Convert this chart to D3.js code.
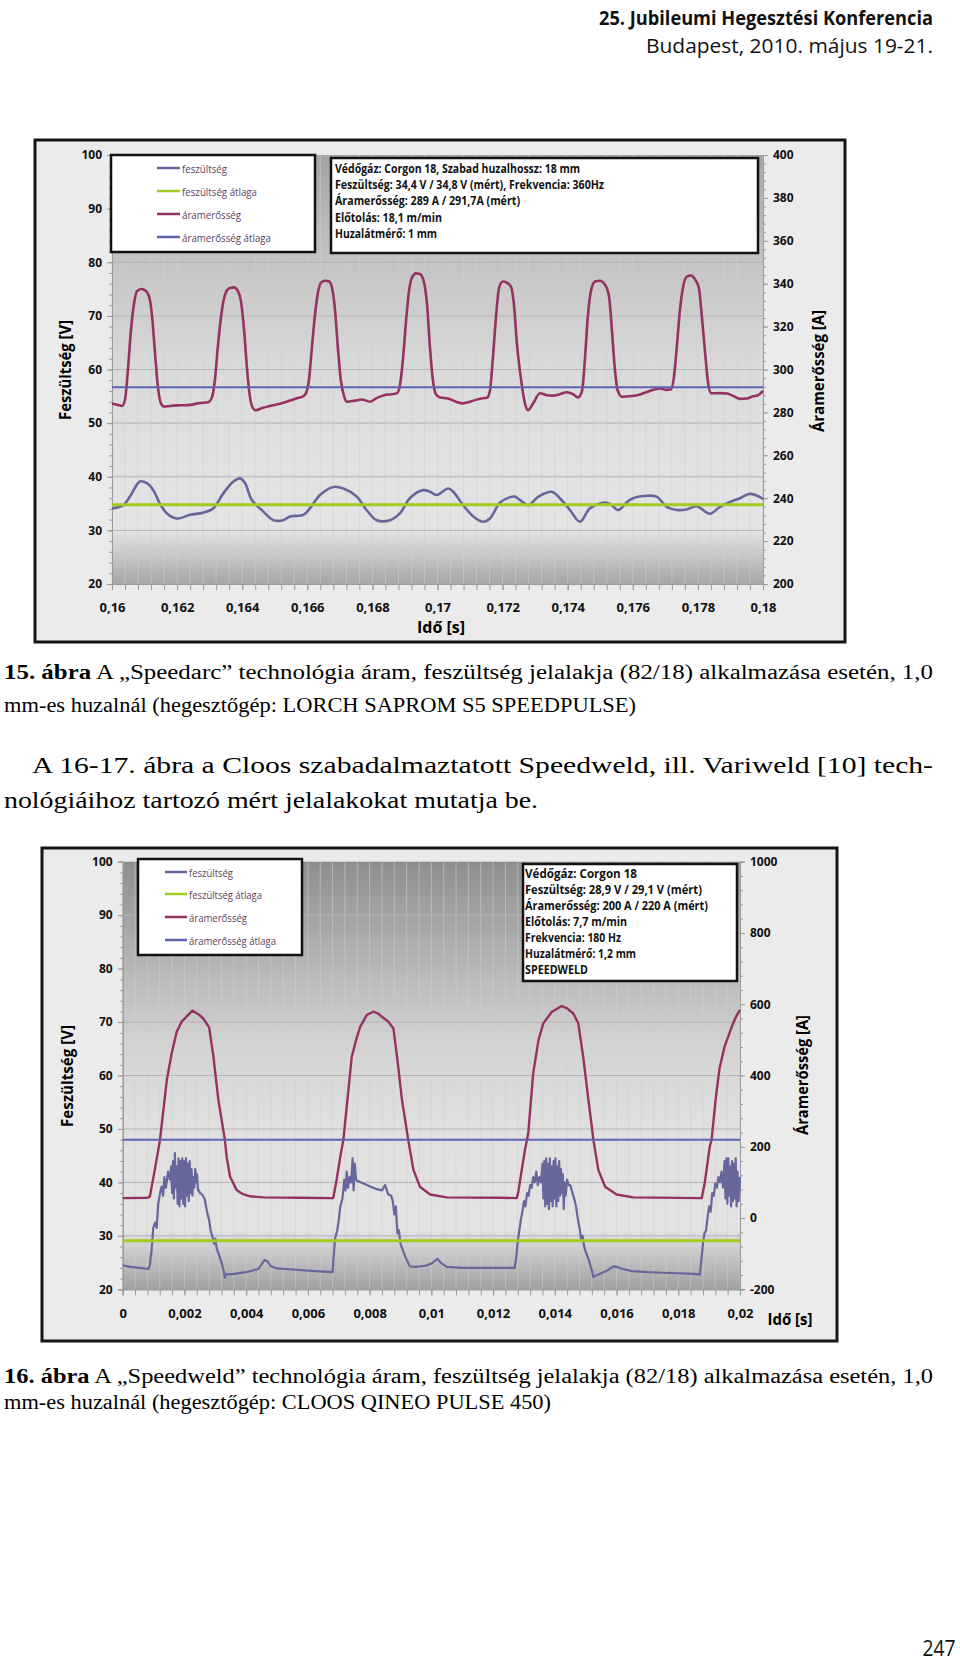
<!DOCTYPE html>
<html><head><meta charset="utf-8">
<script src="https://cdn.jsdelivr.net/npm/d3@7"></script>
<style>body{margin:0;background:#fff} svg{display:block}</style>
</head><body>
<svg id="page" width="960" height="1661"></svg>
<script>
// ---------------- DATA ----------------
const legendLabels = ["feszültség", "feszültség átlaga", "áramerősség", "áramerősség átlaga"];

// Figure 15 (Speedarc)
const c1Info = [
  "Védőgáz: Corgon 18, Szabad huzalhossz: 18 mm",
  "Feszültség: 34,4 V / 34,8 V (mért), Frekvencia: 360Hz",
  "Áramerősség: 289 A / 291,7A (mért)",
  "Előtolás: 18,1 m/min",
  "Huzalátmérő: 1 mm"
];
const c1XTicks = [0.16, 0.162, 0.164, 0.166, 0.168, 0.17, 0.172, 0.174, 0.176, 0.178, 0.18];
const c1YLeftTicks = [20, 30, 40, 50, 60, 70, 80, 90, 100];
const c1YRightTicks = [200, 220, 240, 260, 280, 300, 320, 340, 360, 380, 400];
const c1VoltageAvg = 34.8;
const c1CurrentAvg = 291.7;
const c1Current = [
[0.16000,284.2],[0.16018,283.5],[0.16031,283.0],[0.16040,286],[0.16049,300],[0.16058,318],[0.16068,331],[0.16077,336.5],[0.16089,337.5],[0.16101,337],[0.16114,334],[0.16123,325],[0.16132,308],[0.16141,292],[0.16151,284],[0.16160,282.7],[0.16178,283],[0.16209,283.3],[0.16240,283.5],[0.16270,284.4],[0.16295,284.7],
[0.16307,287],[0.16316,295],[0.16326,312],[0.16338,328],[0.16350,336],[0.16362,338],[0.16375,338.3],[0.16387,336.5],[0.16396,332],[0.16406,318],[0.16415,300],[0.16424,287],[0.16433,282],[0.16442,281],[0.16461,282],[0.16485,283],[0.16516,284],[0.16547,285.5],[0.16568,286.6],[0.16587,287.5],
[0.16596,289],[0.16605,295],[0.16614,310],[0.16624,326],[0.16633,336],[0.16642,340.5],[0.16654,341.4],[0.16667,341],[0.16676,338],[0.16685,328],[0.16694,310],[0.16703,295],[0.16713,287.5],[0.16722,285],[0.16746,285.5],[0.16768,286],[0.16793,285],[0.16814,286.8],[0.16836,288],[0.16860,288.5],[0.16876,289],
[0.16885,293],[0.16894,305],[0.16903,322],[0.16912,336],[0.16922,343],[0.16934,344.8],[0.16946,344.5],[0.16958,341],[0.16968,330],[0.16977,310],[0.16986,295],[0.16995,288.5],[0.17008,287],[0.17032,286.5],[0.17057,285],[0.17078,284.2],[0.17100,285],[0.17131,286.4],[0.17152,286.8],
[0.17161,290],[0.17170,305],[0.17180,325],[0.17189,338],[0.17201,341],[0.17213,340.5],[0.17226,338.5],[0.17235,330],[0.17244,312],[0.17257,295],[0.17269,284],[0.17278,281],[0.17293,284],[0.17315,288.9],[0.17336,288],[0.17355,287.8],[0.17376,288.5],[0.17398,289.4],[0.17416,288.5],[0.17432,287],
[0.17444,290],[0.17453,305],[0.17462,325],[0.17472,337],[0.17484,341],[0.17499,341.4],[0.17515,339.5],[0.17527,334],[0.17536,318],[0.17545,300],[0.17554,290],[0.17567,287.3],[0.17591,287.5],[0.17613,288],[0.17634,289],[0.17653,290],[0.17668,290.8],[0.17683,291.2],[0.17702,290.5],[0.17717,290.7],
[0.17726,296],[0.17736,312],[0.17745,328],[0.17754,338],[0.17766,343.3],[0.17779,343.8],[0.17791,342],[0.17803,338],[0.17812,325],[0.17822,308],[0.17831,294],[0.17840,289],[0.17849,288.9],[0.17868,289],[0.17889,288.8],[0.17911,287.5],[0.17929,286.3],[0.17951,286.5],[0.17969,287.5],[0.17985,288],[0.18000,290]
];
const c1Voltage = [
[0.16000,34.1],[0.16035,34.7],[0.16055,36.3],[0.16086,39.1],[0.16107,38.8],[0.16127,37.5],[0.16147,35],[0.16168,33.2],[0.16199,32.2],[0.16240,32.9],[0.16280,33.3],[0.16311,34.1],[0.16342,36.9],[0.16373,39.1],[0.16393,39.7],[0.16409,38.8],[0.16429,35.7],[0.16465,33.5],[0.16496,31.9],[0.16526,31.9],[0.16547,32.6],[0.16588,32.9],
[0.16608,34.1],[0.16639,36.6],[0.16680,38.1],[0.16711,37.8],[0.16752,36.3],[0.16782,33.8],[0.16813,31.9],[0.16854,31.9],[0.16885,33.2],[0.16915,36],[0.16956,37.5],[0.16977,37.2],[0.16997,36.6],[0.17033,37.8],[0.17048,37.2],[0.17079,34.7],[0.17110,32.6],[0.17141,31.6],[0.17161,32.2],
[0.17192,35.2],[0.17223,36.2],[0.17238,36.3],[0.17253,35.7],[0.17279,34.7],[0.17310,36.3],[0.17351,37.2],[0.17376,36],[0.17407,33.8],[0.17438,31.6],[0.17468,34.1],[0.17515,35.2],[0.17535,34.7],[0.17555,33.8],[0.17591,35.7],[0.17632,36.4],[0.17673,36.3],[0.17704,34.4],[0.17735,33.8],[0.17765,33.9],
[0.17796,34.5],[0.17837,33.1],[0.17868,34.4],[0.17899,35.3],[0.17929,36],[0.17960,36.8],[0.17996,36],[0.18000,35.8]
];

// Figure 16 (Speedweld)
const c2Info = [
  "Védőgáz: Corgon 18",
  "Feszültség: 28,9 V  /  29,1 V (mért)",
  "Áramerősség: 200 A  /  220 A (mért)",
  "Előtolás: 7,7 m/min",
  "Frekvencia: 180 Hz",
  "Huzalátmérő: 1,2 mm",
  "SPEEDWELD"
];
const c2XTicks = [0, 0.002, 0.004, 0.006, 0.008, 0.01, 0.012, 0.014, 0.016, 0.018, 0.02];
const c2YLeftTicks = [20, 30, 40, 50, 60, 70, 80, 90, 100];
const c2YRightTicks = [-200, 0, 200, 400, 600, 800, 1000];
const c2VoltageAvg = 29.1;
const c2CurrentAvg = 220;
const c2Current = [
[0,56],[0.0008,57],[0.00088,60],[0.00105,140],[0.00121,220],[0.00143,388],[0.00159,463],[0.00175,523],[0.00191,551],[0.00207,565],[0.00226,582],[0.00245,572],[0.00261,560],[0.0028,535],[0.00294,453],[0.0031,331],[0.00331,220],[0.00337,170],[0.00348,116],[0.00369,79],[0.0039,67],[0.00412,61],[0.00456,58],[0.00574,57],[0.00682,56],
[0.00693,107],[0.00704,167],[0.00715,220],[0.00728,331],[0.00742,452],[0.00756,499],[0.00769,536],[0.00791,570],[0.00812,579],[0.00827,574],[0.00844,562],[0.00861,551],[0.00877,532],[0.00889,452],[0.00905,331],[0.00925,220],[0.00942,135],[0.00963,88],[0.00996,66],[0.0105,58],[0.01222,57],[0.01277,56],
[0.01282,75],[0.01293,135],[0.01303,190],[0.01314,238],[0.0133,406],[0.01347,499],[0.01363,547],[0.0139,578],[0.01422,595],[0.01439,589],[0.0146,574],[0.01476,547],[0.01492,452],[0.01509,331],[0.01525,220],[0.01541,135],[0.01563,88],[0.016,66],[0.01654,58],[0.01876,56],
[0.01886,100],[0.01902,200],[0.01908,220],[0.01922,340],[0.01934,422],[0.0195,481],[0.01973,536],[0.01987,565],[0.02,584]
];
const c2Voltage = [
[0,24.5],[0.00024,24.2],[0.00056,24.0],[0.00083,23.8],[0.00088,24.5],[0.00094,27.5],[0.00099,31.5],[0.00105,32.5],[0.0011,31.5],[0.00115,36],[0.00121,38],[0.00126,39.2],[0.00131,37.5],[0.00135,41],[0.0014,39],[0.00147,42],[0.00153,40.5],
[0.00157,43],[0.0016,38],[0.00163,44],[0.00166,37],[0.00169,45.5],[0.00172,39],[0.00175,43],[0.00178,36],[0.00181,44.5],[0.00184,35.5],[0.00187,44],[0.0019,37],[0.00193,44.5],[0.00196,36],[0.00199,44],[0.00202,35.5],[0.00205,44.5],[0.00208,37.5],[0.00211,43.5],[0.00214,36.5],[0.00217,44],[0.0022,38],[0.00223,42.5],[0.00226,37.5],[0.00229,41],[0.00232,39],[0.00235,42.5],[0.00238,40],[0.00241,41.5],[0.00244,38.5],
[0.00247,38.5],[0.0025,38],[0.00256,37.8],[0.0026,37.5],[0.00266,36.8],[0.0027,35.5],[0.00275,34],[0.0028,33],[0.00285,31],[0.0029,30],[0.00296,28.5],[0.003,29.5],[0.00305,27.5],[0.00312,26.5],[0.0032,25],[0.00327,23.5],[0.00331,22.2],[0.00335,22.8],[0.0036,22.9],[0.004,23.2],[0.0044,23.8],[0.0046,25.5],[0.0047,25.2],[0.0048,24.3],[0.005,23.9],[0.0055,23.7],[0.006,23.5],[0.0065,23.3],[0.0068,23.2],
[0.00682,25],[0.00688,29.5],[0.00695,31],[0.007,33],[0.00705,35.5],[0.00712,37],[0.00718,40.5],[0.00722,38.5],[0.00726,42],[0.0073,39],[0.00735,41],[0.0074,40],[0.00745,44.5],[0.00748,38.5],[0.00752,43.5],[0.00756,40.5],[0.0076,40.3],[0.0078,39.8],[0.008,39.3],[0.0082,38.8],[0.0084,38.5],[0.0085,39.5],[0.0086,37.8],[0.0087,37.5],[0.00875,36.5],[0.0088,34],[0.00885,35.5],[0.0089,30.5],[0.00895,31],[0.009,28.5],[0.0091,27],[0.0092,25.5],[0.0093,24.3],[0.0095,24.2],[0.0098,24.4],[0.01,24.8],[0.0102,25.7],[0.0103,25],[0.0105,24.2],[0.011,24],[0.012,24],[0.0127,24],
[0.01275,26],[0.0128,29],[0.01285,31],[0.0129,33],[0.01295,34.5],[0.013,36.5],[0.01305,35.5],[0.0131,38],[0.01315,37.5],[0.0132,39.5],[0.01325,39],[0.0133,41],[0.01335,40],[0.0134,42],[0.01345,39.5],[0.0135,41],[0.01355,40],[0.0136,43.5],[0.01363,37],[0.01366,44],[0.01369,35.5],[0.01372,44.5],[0.01375,36],[0.01378,43.5],[0.01381,35],[0.01384,44.5],[0.01387,36.5],[0.0139,43],[0.01393,35.5],[0.01396,44],[0.01399,37],[0.01402,44.5],[0.01405,35.5],[0.01408,43],[0.01411,36.5],[0.01414,44],[0.01417,37.5],[0.0142,42.5],[0.01423,38],[0.01426,41.5],[0.01429,35],[0.01432,40],[0.01435,37.5],[0.0144,40.5],[0.01445,39.5],[0.0145,39.5],[0.01455,38.5],[0.0146,37.5],[0.01465,36.5],[0.0147,35],[0.01475,33],[0.0148,31.5],[0.01485,29.5],[0.0149,30],[0.01495,28],[0.015,27],[0.0151,25.5],[0.0152,23.5],[0.01525,22.3],[0.0153,22.5],[0.0155,23],[0.0157,23.5],[0.0159,24.3],[0.016,24.2],[0.0162,23.8],[0.0165,23.4],[0.017,23.2],[0.0175,23.1],[0.018,23],[0.0185,22.9],[0.0187,22.8],
[0.01875,25.5],[0.0188,28.5],[0.01885,30.5],[0.0189,31],[0.01895,33.5],[0.019,35.5],[0.01905,34.5],[0.0191,38],[0.01915,37.5],[0.0192,39.8],[0.01925,39],[0.0193,41],[0.01935,40],[0.0194,42],[0.01945,39],[0.0195,44],[0.01953,37],[0.01956,44.5],[0.01959,36],[0.01962,44.5],[0.01965,37.5],[0.01968,43],[0.01971,35.5],[0.01974,44],[0.01977,36.5],[0.0198,43.5],[0.01983,37],[0.01986,44.5],[0.01989,35.5],[0.01992,42],[0.01995,36.5],[0.02,41]
];

// ---------------- RENDER ----------------
const svg = d3.select("#page");
svg.append("rect").attr("width", 960).attr("height", 1661).attr("fill", "#fff");
const defs = svg.append("defs");
const loc = d3.formatLocale({decimal: ",", thousands: " ", grouping: [3], currency: ["", ""], minus: "-"});
const fmtX = loc.format("~g");
const fmtY = loc.format("d");
const SANS = "'Open Sans','Noto Sans',sans-serif";
const SERIF = "'Times New Roman','Liberation Serif',Tinos,'Nimbus Roman','FreeSerif',serif";

const COL = {volt: "#67679c", voltAvg: "#9fcb22", curr: "#943262", currAvg: "#6163ae"};

function txt(g, x, y, s, o = {}) {
  const t = g.append("text").attr("x", x).attr("y", y).text(s)
    .attr("font-family", o.family || SANS)
    .attr("font-size", o.size || 12)
    .attr("font-weight", o.weight || "normal")
    .attr("fill", o.fill || "#000")
    .attr("dominant-baseline", "central")
    .attr("text-anchor", o.anchor || "start");
  if (o.len) t.attr("textLength", o.len).attr("lengthAdjust", "spacingAndGlyphs");
  if (o.rotate) t.attr("transform", `rotate(-90,${x},${y})`);
  return t;
}

function drawChart(cfg, data) {
  const g = svg.append("g");
  const [fx0, fy0, fx1, fy1] = cfg.frame;
  g.append("rect").attr("x", fx0).attr("y", fy0).attr("width", fx1 - fx0).attr("height", fy1 - fy0)
    .attr("fill", "#ebebeb").attr("stroke", "#151515").attr("stroke-width", 3);

  const x = d3.scaleLinear().domain(data.xDomain).range([cfg.plot[0], cfg.plot[2]]);
  const yL = d3.scaleLinear().domain([20, 100]).range([cfg.plot[3], cfg.plot[1]]);
  const yR = d3.scaleLinear().domain(data.rDomain).range([cfg.plot[3], cfg.plot[1]]);

  const gid = "grad" + cfg.id;
  const lg = defs.append("linearGradient").attr("id", gid).attr("x1", 0).attr("y1", 0).attr("x2", 0).attr("y2", 1);
  cfg.stops.forEach(s => lg.append("stop").attr("offset", s[0]).attr("stop-color", s[1]));
  g.append("rect").attr("x", x.range()[0]).attr("y", yL.range()[1])
    .attr("width", x.range()[1] - x.range()[0]).attr("height", yL.range()[0] - yL.range()[1])
    .attr("fill", `url(#${gid})`);

  const d0 = data.xDomain[0], d1 = data.xDomain[1];
  const nMinor = Math.round((d1 - d0) / 0.0004);
  const minorX = d3.range(nMinor + 1).map(i => d0 + i * 0.0004);
  g.append("g").selectAll("line").data(minorX).join("line")
    .attr("x1", d => x(d)).attr("x2", d => x(d))
    .attr("y1", yL.range()[1]).attr("y2", yL.range()[0])
    .attr("stroke", "#cfcfcf").attr("stroke-opacity", 0.55).attr("stroke-width", 1);
  g.append("g").selectAll("line").data(data.yLeftTicks.slice(1, -1)).join("line")
    .attr("x1", x.range()[0]).attr("x2", x.range()[1])
    .attr("y1", d => yL(d)).attr("y2", d => yL(d))
    .attr("stroke", "#b4b4b4").attr("stroke-width", 1);

  const axisStyle = (sel, size) => {
    sel.selectAll("path, line").attr("stroke", "#9a9a9a");
    sel.selectAll("text").attr("font-family", SANS).attr("font-weight", "bold").attr("font-size", size).attr("fill", "#111");
  };
  const minorY = d3.range(20, 100.01, 2);
  g.append("g").attr("transform", `translate(${x.range()[0]},0)`)
    .call(d3.axisLeft(yL).tickValues(minorY).tickSize(3).tickFormat("")).call(s => axisStyle(s, 12));
  g.append("g").attr("transform", `translate(${x.range()[0]},0)`)
    .call(d3.axisLeft(yL).tickValues(data.yLeftTicks).tickSize(5).tickPadding(5).tickFormat(fmtY))
    .call(s => axisStyle(s, 12));
  const rStep = (data.rDomain[1] - data.rDomain[0]) / cfg.rMinorCount;
  const minorR = d3.range(cfg.rMinorCount + 1).map(i => data.rDomain[0] + i * rStep);
  g.append("g").attr("transform", `translate(${x.range()[1]},0)`)
    .call(d3.axisRight(yR).tickValues(minorR).tickSize(3).tickFormat("")).call(s => axisStyle(s, 12));
  g.append("g").attr("transform", `translate(${x.range()[1]},0)`)
    .call(d3.axisRight(yR).tickValues(data.yRightTicks).tickSize(5).tickPadding(5).tickFormat(fmtY))
    .call(s => axisStyle(s, 12));
  g.append("g").attr("transform", `translate(0,${yL.range()[0]})`)
    .call(d3.axisBottom(x).tickValues(minorX).tickSize(6).tickFormat("")).call(s => axisStyle(s, 13));
  g.append("g").attr("transform", `translate(0,${yL.range()[0]})`)
    .call(d3.axisBottom(x).tickValues(data.xTicks).tickSize(6).tickPadding(cfg.xPad).tickFormat(fmtX))
    .call(s => axisStyle(s, 13));

  const lineV = d3.line().x(d => x(d[0])).y(d => yL(d[1])).curve(cfg.curveV);
  const lineC = d3.line().x(d => x(d[0])).y(d => yR(d[1])).curve(cfg.curveC);
  g.append("path").datum(data.voltage).attr("d", lineV).attr("fill", "none")
    .attr("stroke", COL.volt).attr("stroke-width", cfg.wV).attr("stroke-linejoin", "round");
  g.append("line").attr("x1", x.range()[0]).attr("x2", x.range()[1])
    .attr("y1", yL(data.voltAvg)).attr("y2", yL(data.voltAvg))
    .attr("stroke", COL.voltAvg).attr("stroke-width", 3);
  g.append("path").datum(data.current).attr("d", lineC).attr("fill", "none")
    .attr("stroke", COL.curr).attr("stroke-width", cfg.wC).attr("stroke-linejoin", "round");
  g.append("line").attr("x1", x.range()[0]).attr("x2", x.range()[1])
    .attr("y1", yR(data.currAvg)).attr("y2", yR(data.currAvg))
    .attr("stroke", COL.currAvg).attr("stroke-width", 2);

  const [lx0, ly0, lx1, ly1] = cfg.legend;
  g.append("rect").attr("x", lx0).attr("y", ly0).attr("width", lx1 - lx0).attr("height", ly1 - ly0)
    .attr("fill", "#fff").attr("stroke", "#111").attr("stroke-width", 2.5);
  const legCols = [COL.volt, COL.voltAvg, COL.curr, COL.currAvg];
  legendLabels.forEach((lab, i) => {
    const yy = cfg.legendRows[i];
    g.append("line").attr("x1", cfg.legendLine[0]).attr("x2", cfg.legendLine[1])
      .attr("y1", yy).attr("y2", yy).attr("stroke", legCols[i]).attr("stroke-width", 2.5);
    txt(g, cfg.legendLine[1] + 2, yy, lab, {size: 11.5, fill: "#5a3f5c", len: cfg.legendLens[i]});
  });

  const [ix0, iy0, ix1, iy1] = cfg.info;
  g.append("rect").attr("x", ix0).attr("y", iy0).attr("width", ix1 - ix0).attr("height", iy1 - iy0)
    .attr("fill", "#fff").attr("stroke", "#111").attr("stroke-width", 2.5);
  data.info.forEach((s, i) => {
    txt(g, cfg.infoX, cfg.infoY0 + i * cfg.infoDy, s, {size: 11.5, weight: "bold", fill: "#111", len: cfg.infoLens[i]});
  });

  txt(g, cfg.tL[0], cfg.tL[1], "Feszültség [V]", {size: 16, weight: "bold", anchor: "middle", rotate: true, len: cfg.tL[2]});
  txt(g, cfg.tR[0], cfg.tR[1], "Áramerősség [A]", {size: 16, weight: "bold", anchor: "middle", rotate: true, len: cfg.tR[2]});
  txt(g, cfg.tX[0], cfg.tX[1], cfg.tX[3], {size: 16, weight: "bold", anchor: "middle", len: cfg.tX[2]});
}

// ---- header ----
txt(svg, 933, 17, "25. Jubileumi Hegesztési Konferencia", {size: 19.5, weight: "bold", anchor: "end", len: 334, fill: "#111"});
txt(svg, 933, 45, "Budapest, 2010. május 19-21.", {size: 20, anchor: "end", len: 287, fill: "#111"});

// ---- chart 1 ----
drawChart({
  id: 1, frame: [35, 140, 845, 642], plot: [112, 155, 763, 584],
  stops: [[0, "#a3a3a3"], [0.25, "#c4c4c4"], [0.5, "#dadada"], [0.75, "#e2e2e2"], [0.875, "#e4e4e4"], [1, "#a5a5a5"]],
  rMinorCount: 50, xPad: 13,
  curveV: d3.curveCatmullRom, curveC: d3.curveMonotoneX, wV: 2.6, wC: 2.6,
  legend: [111, 155, 315, 252], legendRows: [168, 191, 214, 237], legendLine: [157, 180], legendLens: [45, 75, 59, 89],
  info: [331, 158, 758, 253], infoX: 335, infoY0: 168, infoDy: 16.4, infoLens: [245, 269, 185, 107, 102],
  tL: [65, 370, 100], tR: [818, 371, 122], tX: [441, 627, 48, "Idő  [s]"]
}, {
  xDomain: [0.16, 0.18], rDomain: [200, 400], xTicks: c1XTicks, yLeftTicks: c1YLeftTicks, yRightTicks: c1YRightTicks,
  voltage: c1Voltage, current: c1Current, voltAvg: c1VoltageAvg, currAvg: c1CurrentAvg, info: c1Info
});

// ---- captions / paragraph ----
const cap1 = svg.append("text").attr("x", 4).attr("y", 672).attr("font-family", SERIF).attr("font-size", 20)
  .attr("dominant-baseline", "central").attr("textLength", 929).attr("lengthAdjust", "spacingAndGlyphs");
cap1.append("tspan").attr("font-weight", "bold").text("15. ábra");
cap1.append("tspan").text(" A „Speedarc” technológia áram, feszültség jelalakja (82/18) alkalmazása esetén, 1,0");
txt(svg, 4, 705, "mm-es huzalnál (hegesztőgép: LORCH SAPROM S5 SPEEDPULSE)", {family: SERIF, size: 20, len: 632});
txt(svg, 32, 765, "A 16-17. ábra a Cloos szabadalmaztatott Speedweld, ill. Variweld [10] tech-", {family: SERIF, size: 24, len: 901});
txt(svg, 4, 800, "nológiáihoz tartozó mért jelalakokat mutatja be.", {family: SERIF, size: 24, len: 534});

// ---- chart 2 ----
drawChart({
  id: 2, frame: [42, 848, 837, 1341], plot: [122.7, 861.7, 740, 1289.3],
  stops: [[0, "#8e8e8e"], [0.2, "#afafaf"], [0.42, "#d2d2d2"], [0.6, "#dfdfdf"], [0.86, "#e3e3e3"], [1, "#a0a0a0"]],
  rMinorCount: 30, xPad: 13,
  curveV: d3.curveLinear, curveC: d3.curveLinear, wV: 2.2, wC: 2.4,
  legend: [138, 859, 302, 955], legendRows: [872, 894, 917, 940], legendLine: [165, 187], legendLens: [44, 73, 58, 87],
  info: [523, 864, 737, 981], infoX: 525, infoY0: 873.5, infoDy: 16, infoLens: [112, 177, 183, 102, 96, 111, 63],
  tL: [67, 1076, 102], tR: [802, 1075, 120], tX: [790, 1319, 45, "Idő [s]"]
}, {
  xDomain: [0, 0.02], rDomain: [-200, 1000], xTicks: c2XTicks, yLeftTicks: c2YLeftTicks, yRightTicks: c2YRightTicks,
  voltage: c2Voltage, current: c2Current, voltAvg: c2VoltageAvg, currAvg: c2CurrentAvg, info: c2Info
});

const cap2 = svg.append("text").attr("x", 4).attr("y", 1376).attr("font-family", SERIF).attr("font-size", 20)
  .attr("dominant-baseline", "central").attr("textLength", 929).attr("lengthAdjust", "spacingAndGlyphs");
cap2.append("tspan").attr("font-weight", "bold").text("16. ábra");
cap2.append("tspan").text(" A „Speedweld” technológia áram, feszültség jelalakja (82/18) alkalmazása esetén, 1,0");
txt(svg, 4, 1402, "mm-es huzalnál (hegesztőgép: CLOOS QINEO PULSE 450)", {family: SERIF, size: 20, len: 547});

txt(svg, 939, 1648, "247", {size: 21, anchor: "middle", len: 33, fill: "#111"});
</script>
</body></html>
